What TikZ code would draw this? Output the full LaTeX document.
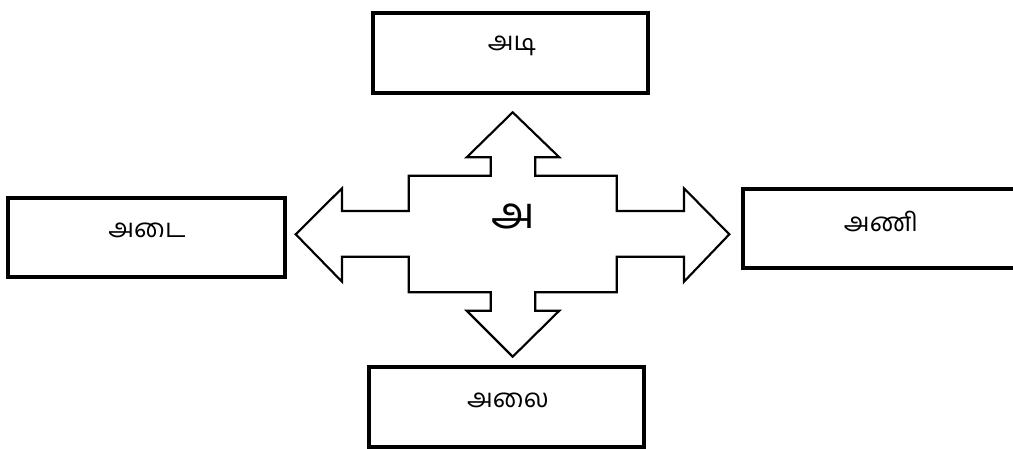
\documentclass[tikz,border=0pt]{standalone}
\usepackage{fontspec}
\newfontfamily\tamil[Script=Tamil]{Hind Madurai}
\begin{document}
\begin{tikzpicture}[x=0.75pt,y=-0.75pt,
  box/.style={draw=black,line width=2.6pt,fill=white},
  lbl/.style={font=\tamil\fontsize{19.5}{22}\selectfont,inner sep=0pt},
  bigl/.style={font=\tamil\fontsize{33}{38}\selectfont,inner sep=0pt}]
\useasboundingbox (0,0) rectangle (1013,449);
\begin{scope}
\clip (0,0) rectangle (1013,449);
% boxes
\draw[box] (373,13) rectangle (648,93);
\draw[box] (8,198) rectangle (285,277);
\draw[box] (743,189) rectangle (1020,268);
\draw[box] (369,367) rectangle (644,447);
\end{scope}
% four-way arrow
\draw[line width=1.6pt,line join=miter,fill=white]
  (512.7,112.3) -- (559.3,157.3) -- (535.3,157.3) -- (535.3,175.7)
  -- (616.7,175.7) -- (616.7,211) -- (684,211) -- (684,188.3)
  -- (729.3,234.3) -- (684,281.7) -- (684,256.7) -- (616.7,256.7)
  -- (616.7,292.3) -- (535.3,292.3) -- (535.3,310.7) -- (559.3,310.7)
  -- (512.7,356.7) -- (466.7,310.7) -- (490.7,310.7) -- (490.7,292.3)
  -- (408.7,292.3) -- (408.7,256.7) -- (342,256.7) -- (342,281.7)
  -- (295.7,234.3) -- (342,188.3) -- (342,211) -- (408.7,211)
  -- (408.7,175.7) -- (490.7,175.7) -- (490.7,157.3) -- (466.7,157.3) -- cycle;
\node[bigl] (c) at (513,216) {அ};
\node[lbl] (t) at (512,46) {அடி};
\node[lbl] (l) at (147,230) {அடை};
\node[lbl] (r) at (881,221) {அணி};
\node[lbl] (b) at (508,400) {அலை};
\end{tikzpicture}
\end{document}
